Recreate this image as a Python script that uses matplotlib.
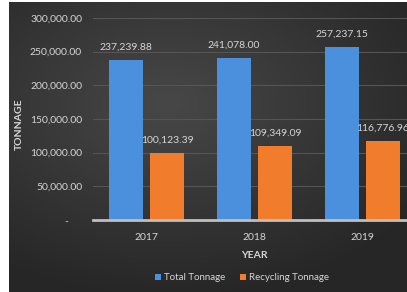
import numpy as np
import matplotlib
matplotlib.use('Agg')
import matplotlib.pyplot as plt

# 字体设置
plt.rcParams['font.family'] = ['Lato', 'DejaVu Sans']

# 数据
years = ['2017', '2018', '2019']
total_tonnage = [237239.88, 241078.00, 257237.15]
recycling_tonnage = [100123.39, 109349.09, 116776.96]
y_ticks = [0, 50000, 100000, 150000, 200000, 250000, 300000]
y_tick_labels = ['-     ', '50,000.00', '100,000.00', '150,000.00',
                 '200,000.00', '250,000.00', '300,000.00']

blue = '#4a90dc'
orange = '#f07c2c'
text_color = '#d6d6d6'

W, H = 407, 292
fig = plt.figure(figsize=(W / 100, H / 100), dpi=100, facecolor='white')

# 背景径向渐变
bg = fig.add_axes([9 / W, 0, 1 - 9 / W, 1 - 2 / H])
bg.set_axis_off()
yy, xx = np.mgrid[0:1:200j, 0:1:280j]
r = np.sqrt(((xx - 0.4) / 1.0) ** 2 + ((yy - 0.35) / 0.9) ** 2)
shade = 0.28 - 0.13 * np.clip(r / 0.75, 0, 1)
img = np.dstack([shade, shade, shade])
bg.imshow(img, aspect='auto', extent=[0, 1, 1, 0])
bg.set_xlim(0, 1)
bg.set_ylim(1, 0)

# 主图
ax = fig.add_axes([92.5 / W, 72 / H, 324 / W, 202 / H])
ax.patch.set_alpha(0)
x = np.arange(len(years))
width = 0.315
off = 0.19
b1 = ax.bar(x - off, total_tonnage, width, color=blue, label='Total Tonnage', zorder=3)
b2 = ax.bar(x + off, recycling_tonnage, width, color=orange, label='Recycling Tonnage', zorder=3)

# 数值标签
for bars, vals in [(b1, total_tonnage), (b2, recycling_tonnage)]:
    for rect, v in zip(bars, vals):
        ax.annotate('{:,.2f}'.format(v), (rect.get_x() + rect.get_width() / 2, v),
                    xytext=(0, 6), textcoords='offset points', ha='center', va='bottom',
                    fontsize=7.5, color=text_color, annotation_clip=False)

ax.set_xlim(-0.5, 2.5)
ax.set_ylim(0, 300000)
ax.set_yticks(y_ticks)
ax.set_yticklabels(y_tick_labels)
ax.set_xticks(x)
ax.set_xticklabels(years)
ax.tick_params(axis='both', length=0, colors=text_color, labelsize=7.5)
ax.tick_params(axis='y', pad=7.5)
ax.tick_params(axis='x', pad=9)
ax.yaxis.grid(True, color='#555555', linewidth=0.8, zorder=0)
for s in ['top', 'right', 'left']:
    ax.spines[s].set_visible(False)
ax.spines['bottom'].set_color('#bfbfbf')
ax.spines['bottom'].set_linewidth(2)
ax.spines['bottom'].set_zorder(4)

ax.set_xlabel('YEAR', fontsize=7.5, fontweight='bold', color=text_color, labelpad=7)
fig.text(19 / W, 1 - 124 / H, 'TONNAGE', rotation=90, ha='center', va='center',
         fontsize=7.5, fontweight='bold', color=text_color)

leg = fig.legend(loc='center', bbox_to_anchor=(242 / W, 1 - 278 / H), ncol=2,
                 frameon=False, fontsize=7, handlelength=0.6, handleheight=0.6,
                 handletextpad=0.3, columnspacing=1.5, labelcolor=text_color)

fig.savefig('out.png', dpi=100, facecolor=fig.get_facecolor())
